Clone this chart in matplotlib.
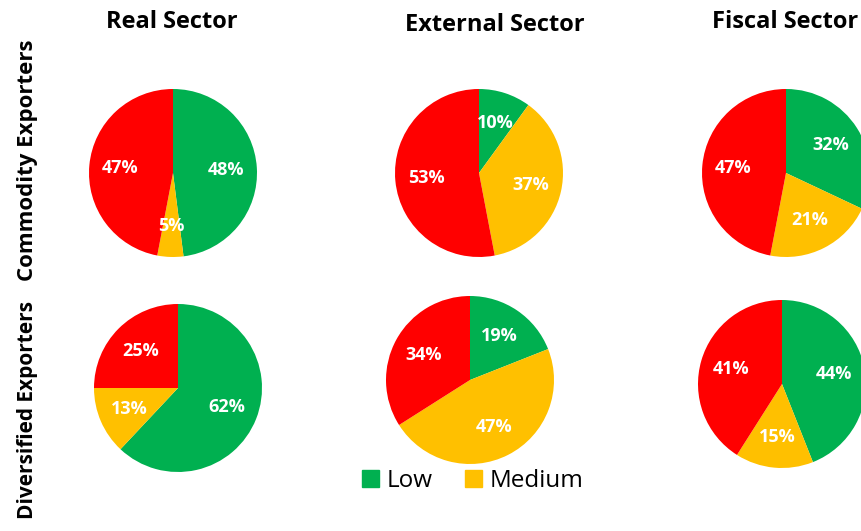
import matplotlib.pyplot as plt
from matplotlib.patches import Patch

plt.rcParams['font.family'] = ['Open Sans', 'DejaVu Sans']

# Share of indicators in each risk band
sectors = ['Real Sector', 'External Sector', 'Fiscal Sector']
groups = ['Commodity Exporters', 'Diversified Exporters']
bands = ['Low', 'Medium', 'High']
colors = ['#00B050', '#FFC000', '#FF0000']

commodity = [[48, 5, 47], [10, 37, 53], [32, 21, 47]]
diversified = [[62, 13, 25], [19, 47, 34], [44, 15, 41]]

W, H = 861, 531
fig = plt.figure(figsize=(W / 100, H / 100), dpi=100)

# pie centres and radius in pixels
centres = [[(173, 173), (479, 173), (786, 173)],
           [(178, 388), (470, 380), (782, 384)]]
r = 84

for row, data in enumerate([commodity, diversified]):
    for col, vals in enumerate(data):
        cx, cy = centres[row][col]
        ax = fig.add_axes([(cx - r) / W, 1 - (cy + r) / H, 2 * r / W, 2 * r / H])
        ax.pie(vals, colors=colors, startangle=90, counterclock=False,
               radius=1, autopct=lambda p: f'{p:.0f}%', pctdistance=0.63,
               textprops=dict(color='white', fontsize=13, fontweight='bold'),
               wedgeprops=dict(linewidth=0))
        ax.set_xlim(-1, 1)
        ax.set_ylim(-1, 1)
        ax.set_aspect('equal')
        ax.axis('off')

# column titles
for x, y, name in [(172, 22, sectors[0]), (495, 25, sectors[1]), (785, 22, sectors[2])]:
    fig.text(x / W, 1 - y / H, name, ha='center', va='center',
             fontsize=17, fontweight='bold')

# row titles
fig.text(28 / W, 1 - 160 / H, groups[0], rotation=90, ha='center', va='center',
         fontsize=16, fontweight='bold')
fig.text(28 / W, 1 - 410 / H, groups[1], rotation=90, ha='center', va='center',
         fontsize=15, fontweight='bold')

handles = [Patch(color=c, label=b) for c, b in zip(colors[:2], bands[:2])]
fig.legend(handles=handles, loc='center left', bbox_to_anchor=(340 / W, 1 - 481 / H),
           ncol=2, frameon=False, fontsize=17.5, handlelength=0.7, handleheight=0.7,
           handletextpad=0.3, columnspacing=1.35)

fig.savefig('out.png', dpi=100)
